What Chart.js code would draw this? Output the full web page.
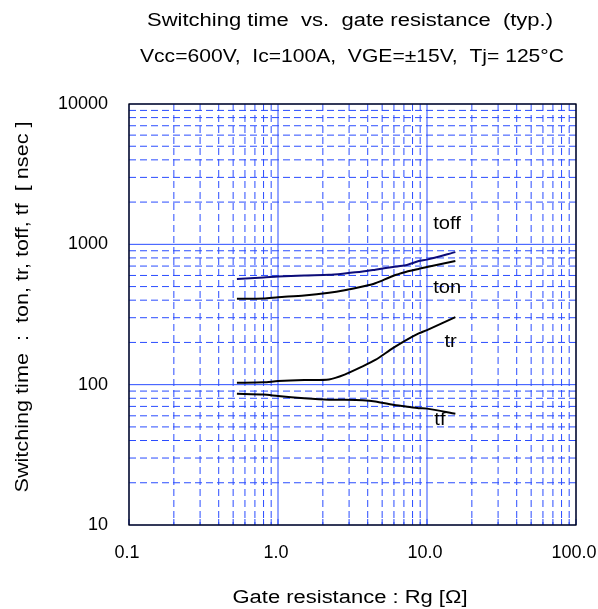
<!DOCTYPE html>
<html>
<head>
<meta charset="utf-8">
<title>Switching time vs. gate resistance</title>
<script src="https://cdn.jsdelivr.net/npm/chart.js@4.4.1/dist/chart.umd.min.js"></script>
<style>
  html, body { margin: 0; padding: 0; background: #fff; }
  canvas { display: block; }
</style>
</head>
<body>
<canvas id="swChart" width="598" height="609"></canvas>
<script>
/* Datos: Rg [ohm] y tiempos [nsec] */

const rg   = [0.53, 0.8, 1.0, 1.5, 2.2, 2.8, 3.7, 4.5, 5.9, 7.2, 8.8, 10, 15.5];
const toff = [567, 580, 589, 600, 606, 620, 640, 660, 690, 710, 760, 778, 880];
const ton  = [409, 412, 420, 432, 451, 470, 500, 528, 595, 635, 668, 690, 760];
const tr   = [103, 104, 106, 108, 109, 118, 135, 150, 182, 207, 232, 245, 303];
const tf   = [86, 85, 83, 80, 78, 78, 77.5, 76, 72, 70, 68, 67.5, 62];

const xTicks = [0.1, 1, 10, 100];
const xTickLabels = ["0.1", "1.0", "10.0", "100.0"];
const yTicks = [10, 100, 1000, 10000];
const yTickLabels = ["10", "100", "1000", "10000"];

/* nombre de cada curva y dónde va su etiqueta (Rg, t) */
const curveNames = ["toff", "ton", "tr", "tf"];
const labelRg = [11.0, 11.0, 13.1, 11.2];
const labelT  = [1400, 492, 200, 55.7];

const FONT = '18px "Liberation Sans", Arial, sans-serif';
const gridBlue = "#2a4cff";

/* ticks 1..9 de cada década */

const decadeTicks = (min, max) => {
    const ticks = [];
    for (let d = min; d < max; d *= 10) {
        for (let k = 1; k < 10; k++) ticks.push({ value: +(d * k).toPrecision(3) });
    }
    ticks.push({ value: max });
    return ticks;
};

const isMajor = (v) => Math.abs(Math.log10(v) - Math.round(Math.log10(v))) < 1e-6;

/* texto estirado en horizontal hasta un ancho dado */

const wideText = (ctx, text, x, y, width, align) => {
    const natural = ctx.measureText(text).width;
    const sx = width / natural;
    const left = align === "center" ? x - width / 2 : align === "right" ? x - width : x;
    ctx.save();
    ctx.translate(left, y);
    ctx.scale(sx, 1);
    ctx.textAlign = "left";
    ctx.fillText(text, 0, 0);
    ctx.restore();
};

/* plugin: rejilla punteada (décadas en línea continua) */

const gridPlugin = {
    id: "gridPlugin",
    beforeDatasetsDraw(chart) {
        const ctx = chart.ctx;
        const area = chart.chartArea;
        const xs = chart.scales.x;
        const ys = chart.scales.y;

        ctx.save();
        ctx.lineWidth = 1;
        ctx.strokeStyle = gridBlue;

        const line = (x1, y1, x2, y2, major) => {
            ctx.setLineDash(major ? [] : [7, 4]);
            ctx.beginPath();
            ctx.moveTo(x1, y1);
            ctx.lineTo(x2, y2);
            ctx.stroke();
        };

        // sin redondear: las líneas caen donde diga la escala
        xs.ticks.forEach(t => {
            const px = xs.getPixelForValue(t.value);
            line(px, area.top, px, area.bottom, isMajor(t.value));
        });
        ys.ticks.forEach(t => {
            const py = ys.getPixelForValue(t.value);
            line(area.left, py, area.right, py, isMajor(t.value));
        });

        // marcas cortas en el borde inferior
        ctx.setLineDash([]);
        xs.ticks.forEach(t => {
            const px = xs.getPixelForValue(t.value);
            ctx.beginPath();
            ctx.moveTo(px, area.bottom);
            ctx.lineTo(px, area.bottom - 6);
            ctx.stroke();
        });

        // marco
        ctx.strokeStyle = "#000";
        ctx.lineWidth = 1.3;
        ctx.strokeRect(area.left, area.top, area.right - area.left, area.bottom - area.top);
        ctx.restore();
    }
};

/* plugin: todos los textos */

const textPlugin = {
    id: "textPlugin",
    afterDraw(chart) {
        const ctx = chart.ctx;
        const area = chart.chartArea;
        const xs = chart.scales.x;
        const ys = chart.scales.y;

        ctx.save();
        ctx.fillStyle = "#000";
        ctx.font = FONT;
        ctx.textBaseline = "middle";

        // etiquetas de los ejes
        ctx.textAlign = "right";
        yTicks.forEach((v, i) => ctx.fillText(yTickLabels[i], area.left - 21, ys.getPixelForValue(v)));
        ctx.textAlign = "center";
        xTicks.forEach((v, i) => ctx.fillText(xTickLabels[i], xs.getPixelForValue(v) - 2, 553));

        // títulos
        wideText(ctx, "Switching time  vs.  gate resistance  (typ.)", 350, 21, 406, "center");
        wideText(ctx, "Vcc=600V,  Ic=100A,  VGE=±15V,  Tj= 125°C", 352, 57, 424, "center");
        wideText(ctx, "Gate resistance : Rg [Ω]", 350, 598, 235, "center");

        ctx.save();
        ctx.translate(23, 307);
        ctx.rotate(-Math.PI / 2);
        wideText(ctx, "Switching time  :  ton, tr, toff, tf  [ nsec ]", 0, 0, 371, "center");
        ctx.restore();

        // nombres de las curvas
        curveNames.forEach((name, i) => {
            const w = ctx.measureText(name).width * 1.12;
            wideText(ctx, name, xs.getPixelForValue(labelRg[i]), ys.getPixelForValue(labelT[i]), w, "left");
        });

        ctx.restore();
    }
};

/* configuración del gráfico */

const makeSet = (label, values, color) => ({
    label: label,
    data: rg.map((x, i) => ({ x: x, y: values[i] })),
    borderColor: color,
    borderWidth: 2,
    pointRadius: 0,
    tension: 0.25,
    fill: false
});

const config = {
    type: "line",
    data: {
        datasets: [
            makeSet("toff", toff, "#0c0c78"),
            makeSet("ton", ton, "#000"),
            makeSet("tr", tr, "#000"),
            makeSet("tf", tf, "#000")
        ]
    },
    options: {
        responsive: false,
        devicePixelRatio: 1,
        animation: false,
        layout: { padding: { left: 129, top: 104, right: 22, bottom: 84 } },
        plugins: {
            legend: { display: false },
            tooltip: { enabled: false }
        },
        scales: {
            x: {
                type: "logarithmic",
                min: 0.1,
                max: 100,
                afterBuildTicks: (scale) => { scale.ticks = decadeTicks(0.1, 100); },
                ticks: { display: false },
                grid: { display: false, drawTicks: false },
                border: { display: false }
            },
            y: {
                type: "logarithmic",
                min: 10,
                max: 10000,
                afterBuildTicks: (scale) => { scale.ticks = decadeTicks(10, 10000); },
                ticks: { display: false },
                grid: { display: false, drawTicks: false },
                border: { display: false }
            }
        }
    },
    plugins: [gridPlugin, textPlugin]
};

const swChart = new Chart(document.getElementById("swChart"), config);
</script>
</body>
</html>
